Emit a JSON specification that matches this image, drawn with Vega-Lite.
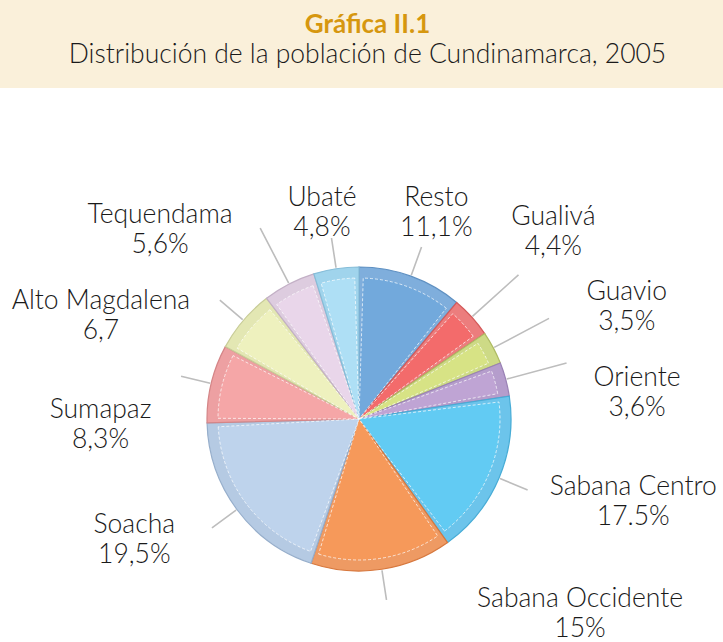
{
  "$schema": "https://vega.github.io/schema/vega-lite/v6.json",
  "width": 723,
  "height": 554,
  "autosize": "none",
  "padding": {"top": 88, "left": 0, "right": 0, "bottom": 0},
  "background": "#FAF0DA",
  "view": {"fill": "white", "stroke": null},
  "title": {
    "text": "Gráfica II.1",
    "subtitle": "Distribución de la población de Cundinamarca, 2005",
    "anchor": "middle",
    "dx": 6,
    "font": "Lato",
    "fontSize": 26,
    "fontWeight": "bold",
    "color": "#D6970F",
    "subtitleFont": "Lato",
    "subtitleFontSize": 26.5,
    "subtitleFontWeight": 300,
    "subtitleColor": "#1A1A1A",
    "subtitlePadding": 4,
    "offset": 20
  },
  "data": {
    "values": [
      {"idx": 1, "region": "Resto", "share": 11.1, "lines": ["Resto", "11,1%"]},
      {"idx": 2, "region": "Gualivá", "share": 4.4, "lines": ["Gualivá", "4,4%"]},
      {"idx": 3, "region": "Guavio", "share": 3.5, "lines": ["Guavio", "3,5%"]},
      {"idx": 4, "region": "Oriente", "share": 3.6, "lines": ["Oriente", "3,6%"]},
      {"idx": 5, "region": "Sabana Centro", "share": 17.5, "lines": ["Sabana Centro", "17.5%"]},
      {"idx": 6, "region": "Sabana Occidente", "share": 15.0, "lines": ["Sabana Occidente", "15%"]},
      {"idx": 7, "region": "Soacha", "share": 19.5, "lines": ["Soacha", "19,5%"]},
      {"idx": 8, "region": "Sumapaz", "share": 8.3, "lines": ["Sumapaz", "8,3%"]},
      {"idx": 9, "region": "Alto Magdalena", "share": 6.7, "lines": ["Alto Magdalena", "6,7"]},
      {"idx": 10, "region": "Tequendama", "share": 5.6, "lines": ["Tequendama", "5,6%"]},
      {"idx": 11, "region": "Ubaté", "share": 4.8, "lines": ["Ubaté", "4,8%"]}
    ]
  },
  "encoding": {
    "theta": {"field": "share", "type": "quantitative", "stack": true},
    "order": {"field": "idx", "type": "quantitative"}
  },
  "layer": [
    {
      "mark": {"type": "arc", "radius": 152, "xOffset": -2.5, "yOffset": 54, "strokeWidth": 1.2},
      "encoding": {
        "fill": {"field": "region", "type": "nominal", "legend": null,
          "scale": {"domain": ["Resto", "Gualivá", "Guavio", "Oriente", "Sabana Centro", "Sabana Occidente", "Soacha", "Sumapaz", "Alto Magdalena", "Tequendama", "Ubaté"],
            "range": ["#7FAEDC", "#EC7D7D", "#CDDA86", "#B59DCC", "#6CC4EB", "#EE9A63", "#B5CAE3", "#EDA0A2", "#E3E7B3", "#DDCCDF", "#A0D4EC"]}},
        "stroke": {"field": "region", "type": "nominal", "legend": null,
          "scale": {"domain": ["Resto", "Gualivá", "Guavio", "Oriente", "Sabana Centro", "Sabana Occidente", "Soacha", "Sumapaz", "Alto Magdalena", "Tequendama", "Ubaté"],
            "range": ["#5E90C2", "#D45A5A", "#AEBB63", "#9A82B5", "#47ACD6", "#D7783E", "#96AECB", "#D48587", "#C8CC98", "#C3B0C6", "#86BDD8"]}}
      }
    },
    {
      "mark": {"type": "arc", "radius": 141, "padAngle": 0.06, "xOffset": -2.5, "yOffset": 54, "stroke": "white", "strokeOpacity": 0.7, "strokeWidth": 1, "strokeDash": [3, 2]},
      "encoding": {
        "color": {"field": "region", "type": "nominal", "legend": null,
          "scale": {"domain": ["Resto", "Gualivá", "Guavio", "Oriente", "Sabana Centro", "Sabana Occidente", "Soacha", "Sumapaz", "Alto Magdalena", "Tequendama", "Ubaté"],
            "range": ["#72A9DC", "#F36B6B", "#D7E385", "#BFA4D4", "#62CBF3", "#F6995A", "#BED3EC", "#F5A6A7", "#EEF1BE", "#E9D6EA", "#AEDFF5"]}}
      }
    },
    {
      "mark": {"type": "arc", "radius": 183, "radius2": 153, "padAngle": 3, "filled": false, "stroke": "#BDBDBD", "strokeWidth": 1.6, "xOffset": -2.5, "yOffset": 54},
      "encoding": {
        "strokeOpacity": {"condition": {"test": "indexof(['Gualivá','Guavio','Oriente','Tequendama'], datum.region) < 0", "value": 1}, "value": 0}
      }
    },
    {
      "mark": {"type": "arc", "radius": 215, "radius2": 153, "padAngle": 3, "filled": false, "stroke": "#BDBDBD", "strokeWidth": 1.6, "xOffset": -2.5, "yOffset": 54},
      "encoding": {
        "strokeOpacity": {"condition": {"test": "indexof(['Gualivá','Guavio','Oriente','Tequendama'], datum.region) >= 0", "value": 1}, "value": 0}
      }
    },
    {"mark": {"type": "text", "radius": 200, "dx": 9, "dy": -33, "xOffset": -2.5, "yOffset": 54},
     "encoding": {"text": {"condition": {"test": "datum.region === 'Resto'", "field": "lines", "type": "nominal"}, "value": ""}}},
    {"mark": {"type": "text", "radius": 200, "dx": 46, "dy": -68, "xOffset": -2.5, "yOffset": 54},
     "encoding": {"text": {"condition": {"test": "datum.region === 'Gualivá'", "field": "lines", "type": "nominal"}, "value": ""}}},
    {"mark": {"type": "text", "radius": 200, "dx": 91, "dy": -33, "xOffset": -2.5, "yOffset": 54},
     "encoding": {"text": {"condition": {"test": "datum.region === 'Guavio'", "field": "lines", "type": "nominal"}, "value": ""}}},
    {"mark": {"type": "text", "radius": 200, "dx": 85, "dy": 11, "xOffset": -2.5, "yOffset": 54},
     "encoding": {"text": {"condition": {"test": "datum.region === 'Oriente'", "field": "lines", "type": "nominal"}, "value": ""}}},
    {"mark": {"type": "text", "radius": 200, "dx": 90, "dy": -10, "xOffset": -2.5, "yOffset": 54},
     "encoding": {"text": {"condition": {"test": "datum.region === 'Sabana Centro'", "field": "lines", "type": "nominal"}, "value": ""}}},
    {"mark": {"type": "text", "radius": 200, "dx": 191, "dy": -18, "xOffset": -2.5, "yOffset": 54},
     "encoding": {"text": {"condition": {"test": "datum.region === 'Sabana Occidente'", "field": "lines", "type": "nominal"}, "value": ""}}},
    {"mark": {"type": "text", "radius": 200, "dx": -64, "dy": -13, "xOffset": -2.5, "yOffset": 54},
     "encoding": {"text": {"condition": {"test": "datum.region === 'Soacha'", "field": "lines", "type": "nominal"}, "value": ""}}},
    {"mark": {"type": "text", "radius": 200, "dx": -64, "dy": 38, "xOffset": -2.5, "yOffset": 54},
     "encoding": {"text": {"condition": {"test": "datum.region === 'Sumapaz'", "field": "lines", "type": "nominal"}, "value": ""}}},
    {"mark": {"type": "text", "radius": 200, "dx": -106, "dy": 12, "xOffset": -2.5, "yOffset": 54},
     "encoding": {"text": {"condition": {"test": "datum.region === 'Alto Magdalena'", "field": "lines", "type": "nominal"}, "value": ""}}},
    {"mark": {"type": "text", "radius": 200, "dx": -107, "dy": -26, "xOffset": -2.5, "yOffset": 54},
     "encoding": {"text": {"condition": {"test": "datum.region === 'Tequendama'", "field": "lines", "type": "nominal"}, "value": ""}}},
    {"mark": {"type": "text", "radius": 200, "dx": -7, "dy": -23, "xOffset": -2.5, "yOffset": 54},
     "encoding": {"text": {"condition": {"test": "datum.region === 'Ubaté'", "field": "lines", "type": "nominal"}, "value": ""}}}
  ],
  "config": {
    "text": {"font": "Lato", "fontSize": 26.5, "fontWeight": 300, "color": "#1A1A1A", "align": "center", "baseline": "middle", "lineHeight": 30}
  }
}
